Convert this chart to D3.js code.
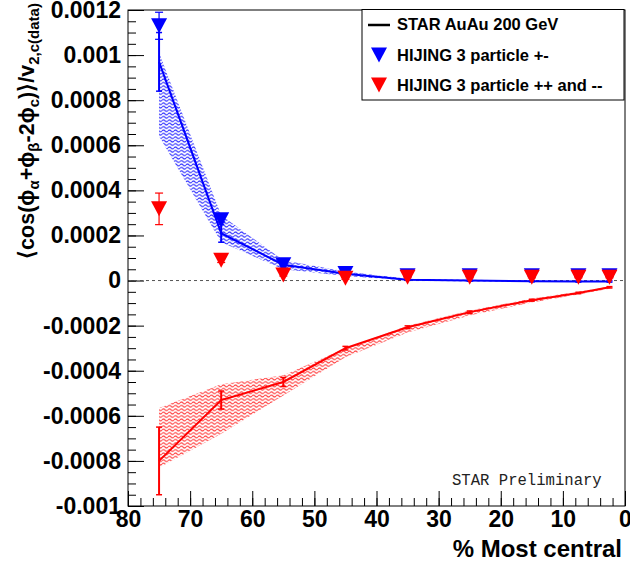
<!DOCTYPE html>
<html>
<head>
<meta charset="utf-8">
<script src="https://cdn.jsdelivr.net/npm/d3@7"></script>
<style>
  body { margin: 0; background: #fff; }
  svg { display: block; }
</style>
</head>
<body>
<div id="chart"></div>
<script>
// ---------------------------------------------------------------
// Data
// ---------------------------------------------------------------
const centrality = [75, 65, 55, 45, 35, 25, 15, 7.5, 2.5];

// HIJING 3 particle, opposite charge (+-)
const hijingOS    = [0.00113, 0.00027, 0.00007, 0.000031, 0.000021, 0.000021, 0.000021, 0.000021, 0.000021];
const hijingOSErr = [0.00006, 0.00001, 0.000005, 0.000004, 0.000003, 0.000003, 0.000003, 0.000003, 0.000003];

// HIJING 3 particle, same charge (++ and --)
const hijingSS    = [0.000318, 0.00009, 0.000025, 0.00001, 0.000015, 0.000015, 0.000015, 0.000015, 0.000015];
const hijingSSErr = [0.00007, 0.00001, 0.000005, 0.000004, 0.000003, 0.000003, 0.000003, 0.000003, 0.000003];

// STAR AuAu 200 GeV, opposite charge
const starOS      = [0.00097, 0.00021, 0.00007, 0.00003, 0.000004, 0.0, -0.000003, -0.000004, -0.000004];
const starOSErr   = [0.00013, 0.00004, 0.000008, 0.000004, 0.000003, 0.000003, 0.000003, 0.000003, 0.000003];
const starOSSysLo = [0.00064, 0.00017, 0.00005, 0.00002, 0.0, -0.000004, -0.000006, -0.000007, -0.000007];
const starOSSysHi = [0.00101, 0.00029, 0.00009, 0.00004, 0.000008, 0.000004, 0.0, -0.000001, -0.000001];

// STAR AuAu 200 GeV, same charge
const starSS      = [-0.0008, -0.00053, -0.00045, -0.00030, -0.000207, -0.00014, -0.000087, -0.000055, -0.00003];
const starSSErr   = [0.00015, 0.00004, 0.00002, 0.000008, 0.000006, 0.000005, 0.000004, 0.000003, 0.000003];
const starSSSysLo = [-0.00083, -0.00068, -0.00051, -0.00034, -0.00023, -0.000155, -0.000097, -0.000062, -0.000036];
const starSSSysHi = [-0.000565, -0.00046, -0.00042, -0.0003, -0.0002, -0.000133, -0.00008, -0.00005, -0.000026];

const legendLabels = ["STAR AuAu 200 GeV", "HIJING 3 particle +-", "HIJING 3 particle ++ and --"];

// ---------------------------------------------------------------
// Set up the SVG
// ---------------------------------------------------------------
const W = 630, H = 570;
const frame = { left: 128, right: 625, top: 10, bottom: 506 };
const FONT = "'Liberation Sans', Arial, Helvetica, sans-serif";

const svg = d3.select("#chart").append("svg")
  .attr("width", W)
  .attr("height", H);

const x = d3.scaleLinear().domain([80, 0]).range([frame.left, frame.right]);
const y = d3.scaleLinear().domain([-0.001, 0.0012]).range([frame.bottom, frame.top]);

// hatch patterns (wavy lines like ROOT fill style)
const defs = svg.append("defs");
function hatch(id, color) {
  const p = defs.append("pattern")
    .attr("id", id)
    .attr("patternUnits", "userSpaceOnUse")
    .attr("width", 6)
    .attr("height", 3.4);
  p.append("path")
    .attr("d", "M0 1.7 Q1.5 0 3 1.7 T6 1.7")
    .attr("fill", "none")
    .attr("stroke", color)
    .attr("stroke-width", 1.1);
}
hatch("hatchBlue", "#2a2aff");
hatch("hatchRed", "#ff3a3a");

// ---------------------------------------------------------------
// Axes
// ---------------------------------------------------------------
const yMajor = d3.range(-0.001, 0.00121, 0.0002);
const yMinor = d3.range(-0.001, 0.00121, 0.00005);
const xMajor = d3.range(0, 81, 10);
const xMinor = d3.range(0, 81, 2);

function fmtY(d) {
  if (Math.abs(d) < 1e-9) return "0";
  return (+d.toFixed(4)).toString();
}

const yAxisMinor = svg.append("g")
  .attr("transform", `translate(${frame.left},0)`)
  .call(d3.axisLeft(y).tickValues(yMinor).tickSize(-8).tickFormat(""));
const yAxis = svg.append("g")
  .attr("transform", `translate(${frame.left},0)`)
  .call(d3.axisLeft(y).tickValues(yMajor).tickSize(-16).tickPadding(7).tickFormat(fmtY));

const xAxisMinor = svg.append("g")
  .attr("transform", `translate(0,${frame.bottom})`)
  .call(d3.axisBottom(x).tickValues(xMinor).tickSize(-8).tickFormat(""));
const xAxis = svg.append("g")
  .attr("transform", `translate(0,${frame.bottom})`)
  .call(d3.axisBottom(x).tickValues(xMajor).tickSize(-15).tickPadding(5).tickFormat(d3.format("d")));

[yAxisMinor, yAxis, xAxisMinor, xAxis].forEach(a => {
  a.select(".domain").remove();
  a.selectAll(".tick line").attr("stroke", "#000").attr("stroke-width", 1);
});
yAxis.selectAll("text")
  .attr("font-family", FONT).attr("font-weight", "bold")
  .attr("font-size", "23px").attr("fill", "#000");
xAxis.selectAll("text")
  .attr("font-family", FONT).attr("font-weight", "bold")
  .attr("font-size", "23px").attr("fill", "#000");

// zero line
svg.append("line")
  .attr("x1", frame.left).attr("x2", frame.right)
  .attr("y1", y(0)).attr("y2", y(0))
  .attr("stroke", "#555").attr("stroke-width", 1)
  .attr("stroke-dasharray", "3,3");

// ---------------------------------------------------------------
// Systematic bands
// ---------------------------------------------------------------
function band(lo, hi, fill) {
  const area = d3.area()
    .x((d, i) => x(centrality[i]))
    .y0((d, i) => y(lo[i]))
    .y1((d, i) => y(hi[i]));
  svg.append("path")
    .datum(lo)
    .attr("d", area)
    .attr("fill", fill)
    .attr("opacity", 0.9);
}
band(starOSSysLo, starOSSysHi, "url(#hatchBlue)");
band(starSSSysLo, starSSSysHi, "url(#hatchRed)");

// ---------------------------------------------------------------
// STAR data lines + error bars
// ---------------------------------------------------------------
function dataLine(vals, errs, color) {
  const line = d3.line()
    .x((d, i) => x(centrality[i]))
    .y(d => y(d));
  svg.append("path")
    .datum(vals)
    .attr("d", line)
    .attr("fill", "none")
    .attr("stroke", color)
    .attr("stroke-width", 2);

  const g = svg.append("g").attr("stroke", color).attr("stroke-width", 2);
  vals.forEach((v, i) => {
    const cx = x(centrality[i]);
    g.append("line")
      .attr("x1", cx).attr("x2", cx)
      .attr("y1", y(v - errs[i])).attr("y2", y(v + errs[i]));
    [v - errs[i], v + errs[i]].forEach(e => {
      g.append("line")
        .attr("x1", cx - 3).attr("x2", cx + 3)
        .attr("y1", y(e)).attr("y2", y(e))
        .attr("stroke-width", 1.5);
    });
  });
}
dataLine(starOS, starOSErr, "#0000ff");
dataLine(starSS, starSSErr, "#ff0000");

// ---------------------------------------------------------------
// HIJING markers (down triangles)
// ---------------------------------------------------------------
function triDown(cx, cy) {
  return `M${cx - 8},${cy - 7.5} L${cx + 8},${cy - 7.5} L${cx},${cy + 7.5} Z`;
}
function markers(vals, errs, color) {
  const g = svg.append("g");
  vals.forEach((v, i) => {
    const cx = x(centrality[i]);
    g.append("line")
      .attr("x1", cx).attr("x2", cx)
      .attr("y1", y(v - errs[i])).attr("y2", y(v + errs[i]))
      .attr("stroke", color).attr("stroke-width", 1.2);
    [v - errs[i], v + errs[i]].forEach(e => {
      g.append("line")
        .attr("x1", cx - 4).attr("x2", cx + 4)
        .attr("y1", y(e)).attr("y2", y(e))
        .attr("stroke", color).attr("stroke-width", 1.2);
    });
    g.append("path")
      .attr("d", triDown(cx, y(v)))
      .attr("fill", color);
  });
}
markers(hijingOS, hijingOSErr, "#0000ff");
markers(hijingSS, hijingSSErr, "#ff0000");

// frame
svg.append("rect")
  .attr("x", frame.left).attr("y", frame.top)
  .attr("width", frame.right - frame.left)
  .attr("height", frame.bottom - frame.top)
  .attr("fill", "none")
  .attr("stroke", "#000").attr("stroke-width", 1);

// ---------------------------------------------------------------
// Legend
// ---------------------------------------------------------------
const leg = svg.append("g");
leg.append("rect")
  .attr("x", 362).attr("y", 9.5)
  .attr("width", 262).attr("height", 90.5)
  .attr("fill", "#fff")
  .attr("stroke", "#000").attr("stroke-width", 1);

const legRows = [30, 60.5, 91];
leg.append("line")
  .attr("x1", 368).attr("x2", 390)
  .attr("y1", 25).attr("y2", 25)
  .attr("stroke", "#000").attr("stroke-width", 2.5);
leg.append("path").attr("d", triDown(379, 55)).attr("fill", "#0000ff");
leg.append("path").attr("d", triDown(379, 85)).attr("fill", "#ff0000");

legendLabels.forEach((t, i) => {
  leg.append("text")
    .attr("x", 397).attr("y", legRows[i])
    .attr("font-family", FONT).attr("font-weight", "bold")
    .attr("font-size", "16.5px").attr("fill", "#000")
    .text(t);
});

// ---------------------------------------------------------------
// Titles
// ---------------------------------------------------------------
svg.append("text")
  .attr("x", 622).attr("y", 557)
  .attr("text-anchor", "end")
  .attr("font-family", FONT).attr("font-weight", "bold")
  .attr("font-size", "24px").attr("fill", "#000")
  .text("% Most central");

const yt = svg.append("text")
  .attr("transform", "translate(34,131) rotate(-90)")
  .attr("text-anchor", "middle")
  .attr("font-family", FONT).attr("font-weight", "bold")
  .attr("font-size", "21.5px").attr("fill", "#000");
const parts = [
  ["\u27E8cos(\u03D5", false], ["\u03B1", true],
  ["+\u03D5", false], ["\u03B2", true],
  ["-2\u03D5", false], ["c", true],
  [")\u27E9/v", false], ["2,c(data)", true]
];
parts.forEach(([t, sub]) => {
  const ts = yt.append("tspan").text(t);
  if (sub) {
    ts.attr("baseline-shift", "-30%").attr("font-size", "15px");
  }
});

svg.append("text")
  .attr("x", 452).attr("y", 485)
  .attr("font-family", "'Liberation Mono', 'DejaVu Sans Mono', monospace")
  .attr("font-size", "15.6px").attr("fill", "#222")
  .text("STAR Preliminary");
</script>
</body>
</html>
